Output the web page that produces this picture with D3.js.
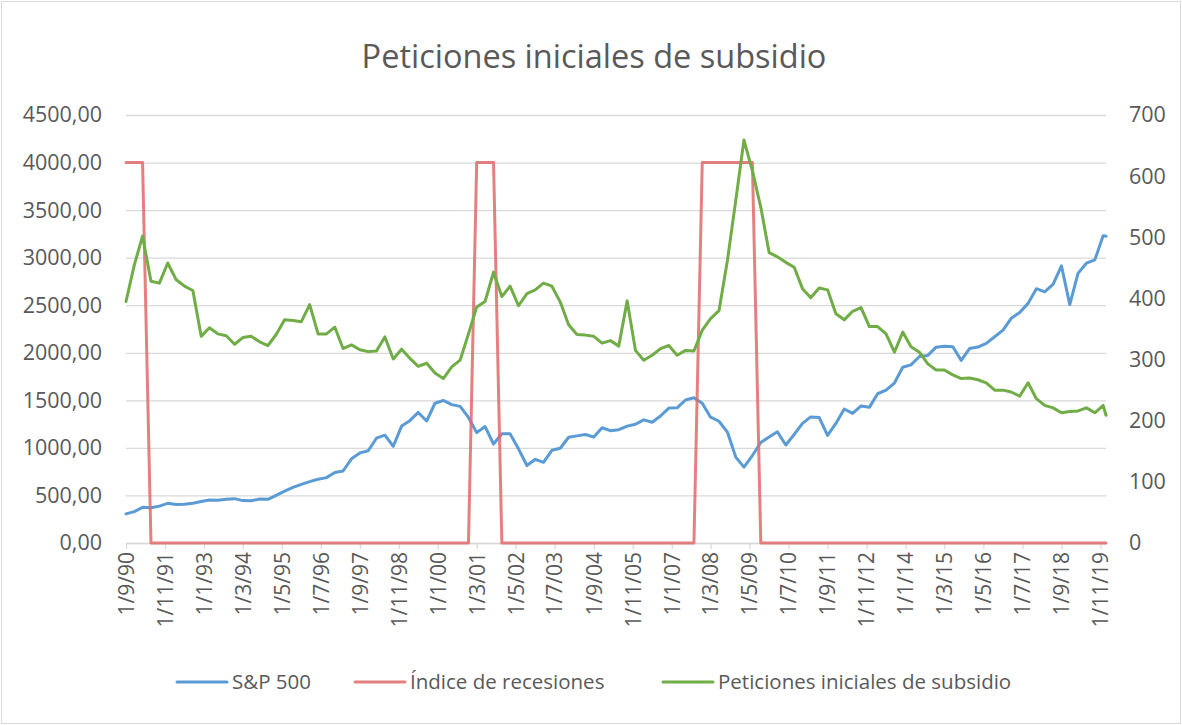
<!DOCTYPE html>
<html>
<head>
<meta charset="utf-8">
<script src="https://cdn.jsdelivr.net/npm/d3@7/dist/d3.min.js"></script>
<style>
body { margin:0; background:#fff; }
text { font-family: "Open Sans", sans-serif; fill:#595959; }
</style>
</head>
<body>
<div id="chart"></div>
<script>
// quarterly points (Sep 1990 .. Dec 2019) + Jan 2020
var dates = [
    "1990-09","1990-12",
    "1991-03","1991-06","1991-09","1991-12",
    "1992-03","1992-06","1992-09","1992-12",
    "1993-03","1993-06","1993-09","1993-12",
    "1994-03","1994-06","1994-09","1994-12",
    "1995-03","1995-06","1995-09","1995-12",
    "1996-03","1996-06","1996-09","1996-12",
    "1997-03","1997-06","1997-09","1997-12",
    "1998-03","1998-06","1998-09","1998-12",
    "1999-03","1999-06","1999-09","1999-12",
    "2000-03","2000-06","2000-09","2000-12",
    "2001-03","2001-06","2001-09","2001-12",
    "2002-03","2002-06","2002-09","2002-12",
    "2003-03","2003-06","2003-09","2003-12",
    "2004-03","2004-06","2004-09","2004-12",
    "2005-03","2005-06","2005-09","2005-12",
    "2006-03","2006-06","2006-09","2006-12",
    "2007-03","2007-06","2007-09","2007-12",
    "2008-03","2008-06","2008-09","2008-12",
    "2009-03","2009-06","2009-09","2009-12",
    "2010-03","2010-06","2010-09","2010-12",
    "2011-03","2011-06","2011-09","2011-12",
    "2012-03","2012-06","2012-09","2012-12",
    "2013-03","2013-06","2013-09","2013-12",
    "2014-03","2014-06","2014-09","2014-12",
    "2015-03","2015-06","2015-09","2015-12",
    "2016-03","2016-06","2016-09","2016-12",
    "2017-03","2017-06","2017-09","2017-12",
    "2018-03","2018-06","2018-09","2018-12",
    "2019-03","2019-06","2019-09","2019-12",
    "2020-01"];

var sp500 = [
    306.05, 330.22,
    375.22, 371.16, 387.86, 417.09,
    403.69, 408.14, 417.80, 435.71,
    451.67, 450.53, 458.93, 466.45,
    445.77, 444.27, 462.69, 459.27,
    500.71, 544.75, 584.41, 615.93,
    645.50, 670.63, 687.33, 740.74,
    757.12, 885.14, 947.28, 970.43,
    1101.75, 1133.84, 1017.01, 1229.23,
    1286.37, 1372.71, 1282.71, 1469.25,
    1498.58, 1454.60, 1436.51, 1320.28,
    1160.33, 1224.42, 1040.94, 1148.08,
    1147.39, 989.82, 815.28, 879.82,
    848.18, 974.50, 995.97, 1111.92,
    1126.21, 1140.84, 1114.58, 1211.92,
    1180.59, 1191.33, 1228.81, 1248.29,
    1294.87, 1270.20, 1335.85, 1418.30,
    1420.86, 1503.35, 1526.75, 1468.36,
    1322.70, 1280.00, 1166.36, 903.25,
    797.87, 919.32, 1057.08, 1115.10,
    1169.43, 1030.71, 1141.20, 1257.64,
    1325.83, 1320.64, 1131.42, 1257.60,
    1408.47, 1362.16, 1440.67, 1426.19,
    1569.19, 1606.28, 1681.55, 1848.36,
    1872.34, 1960.23, 1972.29, 2058.90,
    2067.89, 2063.11, 1920.03, 2043.94,
    2059.74, 2098.86, 2168.27, 2238.83,
    2362.72, 2423.41, 2519.36, 2673.61,
    2640.87, 2718.37, 2913.98, 2506.85,
    2834.40, 2941.76, 2976.74, 3230.78,
    3225.52];

var recesiones = [
    4000, 4000,
    4000, 0, 0, 0,
    0, 0, 0, 0,
    0, 0, 0, 0,
    0, 0, 0, 0,
    0, 0, 0, 0,
    0, 0, 0, 0,
    0, 0, 0, 0,
    0, 0, 0, 0,
    0, 0, 0, 0,
    0, 0, 0, 0,
    4000, 4000, 4000, 0,
    0, 0, 0, 0,
    0, 0, 0, 0,
    0, 0, 0, 0,
    0, 0, 0, 0,
    0, 0, 0, 0,
    0, 0, 0, 4000,
    4000, 4000, 4000, 4000,
    4000, 4000, 0, 0,
    0, 0, 0, 0,
    0, 0, 0, 0,
    0, 0, 0, 0,
    0, 0, 0, 0,
    0, 0, 0, 0,
    0, 0, 0, 0,
    0, 0, 0, 0,
    0, 0, 0, 0,
    0, 0, 0, 0,
    0, 0, 0, 0,
    0];

// miles, eje derecho
var peticiones = [
    395, 455,
    502, 428, 425, 458,
    431, 420, 413, 338,
    352, 342, 339, 325,
    336, 338, 329, 323,
    341, 365, 364, 362,
    390, 342, 342, 353,
    318, 324, 316, 313,
    314, 337, 301, 317,
    302, 289, 294, 278,
    269, 288, 299, 342,
    386, 395, 443, 403,
    420, 388, 408, 414,
    425, 420, 394, 357,
    341, 340, 338, 327,
    331, 322, 396, 315,
    299, 307, 318, 323,
    307, 315, 314, 348,
    367, 380, 462, 560,
    659, 609, 549, 475,
    468, 459, 451, 416,
    401, 417, 414, 375,
    365, 379, 385, 354,
    354, 342, 312, 345,
    321, 312, 293, 283,
    283, 275, 269, 270,
    267, 262, 250, 250,
    247, 240, 262, 236,
    225, 221, 213, 215,
    216, 221, 213, 225,
    209];

var leftTicks = [0, 500, 1000, 1500, 2000, 2500, 3000, 3500, 4000, 4500];
var rightTicks = [0, 100, 200, 300, 400, 500, 600, 700];

var series = [
    {name: "S&P 500", values: sp500, axis: "left", color: "#5B9BD5", opacity: 1},
    {name: "Índice de recesiones", values: recesiones, axis: "left", color: "#E06A6A", opacity: 0.85},
    {name: "Peticiones iniciales de subsidio", values: peticiones, axis: "right", color: "#70AD47", opacity: 1}
];

var margin = {top: 115, left: 126, bottom: 182, right: 76},
    W = 1182, H = 725,
    width = W - margin.left - margin.right,
    height = H - margin.top - margin.bottom;

var parse = d3.timeParse("%Y-%m");
var start = parse(dates[0]);

var svg = d3.select("#chart")
    .append("svg")
        .attr("width", W)
        .attr("height", H);

svg.append("rect")
    .attr("x", 1.5).attr("y", 1.5)
    .attr("width", W - 3).attr("height", H - 3)
    .style("fill", "#fff")
    .style("stroke", "#d9d9d9");

svg.append("text")
    .attr("x", 594)
    .attr("y", 68)
    .attr("text-anchor", "middle")
    .style("font-size", "32.5px")
    .text("Peticiones iniciales de subsidio");

var g = svg.append("g")
    .attr("transform", "translate(" + margin.left + "," + margin.top + ")");

var x = d3.scaleTime()
    .domain([start, parse(dates[dates.length - 1])])
    .range([0, width]);

var yL = d3.scaleLinear().domain([0, 4500]).range([height, 0]);
var yR = d3.scaleLinear().domain([0, 700]).range([height, 0]);

// gridlines
g.append("g")
    .attr("class", "grid")
    .call(d3.axisLeft(yL).tickValues(leftTicks).tickSize(-width).tickFormat(""))
    .call(function(s) { s.select(".domain").remove(); })
    .selectAll("line")
        .style("stroke", "#d9d9d9")
        .style("stroke-width", 1.3);

// x axis, a tick every 14 months
var xTicks = d3.range(0, 351, 14).map(function(m) { return d3.timeMonth.offset(start, m); });
var fmt = d3.timeFormat("%-d/%-m/%y");

var xAxis = g.append("g")
    .attr("class", "axis axis--x")
    .attr("transform", "translate(0," + height + ")")
    .call(d3.axisBottom(x).tickValues(xTicks).tickFormat(fmt).tickSize(6).tickSizeOuter(0));
xAxis.select(".domain").style("stroke", "#d9d9d9").style("stroke-width", 1.3);
xAxis.selectAll(".tick line").style("stroke", "#d9d9d9").style("stroke-width", 1.3);
xAxis.selectAll(".tick text")
    .attr("transform", "rotate(-90)")
    .attr("text-anchor", "end")
    .attr("x", -9)
    .attr("y", 0)
    .attr("dy", "0.35em")
    .style("font-size", "21px")
    .style("fill", "#595959");

g.append("g")
    .attr("class", "axis axis--left")
    .call(d3.axisLeft(yL).tickValues(leftTicks).tickSize(0).tickPadding(24)
        .tickFormat(function(d) { return d.toFixed(2).replace(".", ","); }))
    .call(function(s) { s.select(".domain").remove(); })
    .selectAll("text")
        .style("font-size", "21.5px")
        .style("fill", "#595959");

g.append("g")
    .attr("class", "axis axis--right")
    .attr("transform", "translate(" + width + ",0)")
    .call(d3.axisRight(yR).tickValues(rightTicks).tickSize(0).tickPadding(23))
    .call(function(s) { s.select(".domain").remove(); })
    .selectAll("text")
        .style("font-size", "21.5px")
        .style("fill", "#595959");

series.forEach(function(s) {
    var y = s.axis === "left" ? yL : yR;
    var line = d3.line()
        .x(function(d, i) { return x(parse(dates[i])); })
        .y(function(d) { return y(d); });
    g.append("path")
        .datum(s.values)
        .attr("class", "serie")
        .attr("d", line)
        .style("fill", "none")
        .style("stroke", s.color)
        .style("stroke-opacity", s.opacity)
        .style("stroke-width", 3)
        .style("stroke-linejoin", "round")
        .style("stroke-linecap", "round");
});

// legend
var legendX = [177, 355, 663];
var legend = svg.selectAll(".legend")
    .data(series)
    .enter()
    .append("g")
        .attr("class", "legend")
        .attr("transform", function(d, i) { return "translate(" + legendX[i] + ",682)"; });
legend.append("line")
    .attr("x1", 0).attr("x2", 50)
    .style("stroke", function(d) { return d.color; })
    .style("stroke-opacity", function(d) { return d.opacity; })
    .style("stroke-width", 3)
    .style("stroke-linecap", "round");
legend.append("text")
    .attr("x", 55)
    .attr("dy", "0.35em")
    .style("font-size", "20.5px")
    .text(function(d) { return d.name; });
</script>
</body>
</html>
